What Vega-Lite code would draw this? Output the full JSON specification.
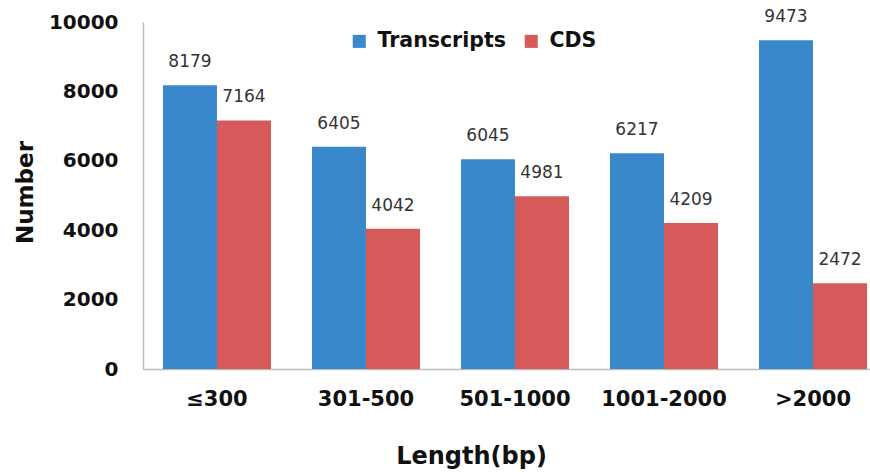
{
  "$schema": "https://vega.github.io/schema/vega-lite/v6.json",
  "width": 727,
  "height": 347,
  "autosize": {"type": "none"},
  "padding": {"left": 143, "top": 22, "right": 0, "bottom": 103},
  "config": {
    "view": {"stroke": null},
    "font": "DejaVu Sans"
  },
  "data": {
    "values": [
      {"length": "≤300", "type": "Transcripts", "count": 8179},
      {"length": "≤300", "type": "CDS", "count": 7164},
      {"length": "301-500", "type": "Transcripts", "count": 6405},
      {"length": "301-500", "type": "CDS", "count": 4042},
      {"length": "501-1000", "type": "Transcripts", "count": 6045},
      {"length": "501-1000", "type": "CDS", "count": 4981},
      {"length": "1001-2000", "type": "Transcripts", "count": 6217},
      {"length": "1001-2000", "type": "CDS", "count": 4209},
      {"length": ">2000", "type": "Transcripts", "count": 9473},
      {"length": ">2000", "type": "CDS", "count": 2472}
    ]
  },
  "encoding": {
    "x": {
      "field": "length",
      "type": "nominal",
      "sort": ["≤300", "301-500", "501-1000", "1001-2000", ">2000"],
      "scale": {"paddingInner": 0.275, "paddingOuter": 0.077, "align": 0.87},
      "axis": {
        "title": "Length(bp)",
        "labelAngle": 0,
        "labelFont": "DejaVu Sans",
        "labelFontWeight": "bold",
        "labelFontSize": 21,
        "labelColor": "#111",
        "labelPadding": 19,
        "ticks": false,
        "domainColor": "#bbbbbb",
        "domainWidth": 1.5,
        "titleFont": "DejaVu Sans",
        "titleFontSize": 24,
        "titleFontWeight": "bold",
        "titleColor": "#111",
        "titleX": 328,
        "titleY": 94,
        "titleBaseline": "alphabetic"
      }
    },
    "xOffset": {"field": "type", "type": "nominal", "sort": ["Transcripts", "CDS"]},
    "y": {
      "field": "count",
      "type": "quantitative",
      "scale": {"domain": [0, 10000]},
      "axis": {
        "title": "Number",
        "format": "d",
        "values": [0, 2000, 4000, 6000, 8000, 10000],
        "grid": false,
        "ticks": false,
        "domainColor": "#bbbbbb",
        "domainWidth": 1.5,
        "labelFont": "DejaVu Sans",
        "labelFontWeight": "bold",
        "labelFontSize": 20,
        "labelColor": "#111",
        "labelPadding": 25,
        "titleFont": "DejaVu Sans",
        "titleFontSize": 23,
        "titleFontWeight": "bold",
        "titleColor": "#111",
        "titleX": -106,
        "titleY": 170
      }
    }
  },
  "layer": [
    {
      "mark": {"type": "bar"},
      "encoding": {
        "color": {
          "field": "type",
          "type": "nominal",
          "sort": ["Transcripts", "CDS"],
          "scale": {"domain": ["Transcripts", "CDS"], "range": ["#3a88cc", "#d65a5a"]},
          "legend": {
            "title": null,
            "orient": "none",
            "direction": "horizontal",
            "legendX": 206,
            "legendY": 9,
            "symbolType": "square",
            "symbolSize": 170,
            "symbolStrokeWidth": 0,
            "labelFont": "DejaVu Sans",
            "labelFontSize": 20.5,
            "labelFontWeight": "bold",
            "labelColor": "#111",
            "labelOffset": 8,
            "columnPadding": 15,
            "padding": 0
          }
        }
      }
    },
    {
      "mark": {"type": "text", "baseline": "alphabetic", "dy": -18, "fontSize": 17, "font": "DejaVu Sans", "color": "#333"},
      "encoding": {
        "text": {"field": "count", "type": "quantitative"}
      }
    }
  ]
}
